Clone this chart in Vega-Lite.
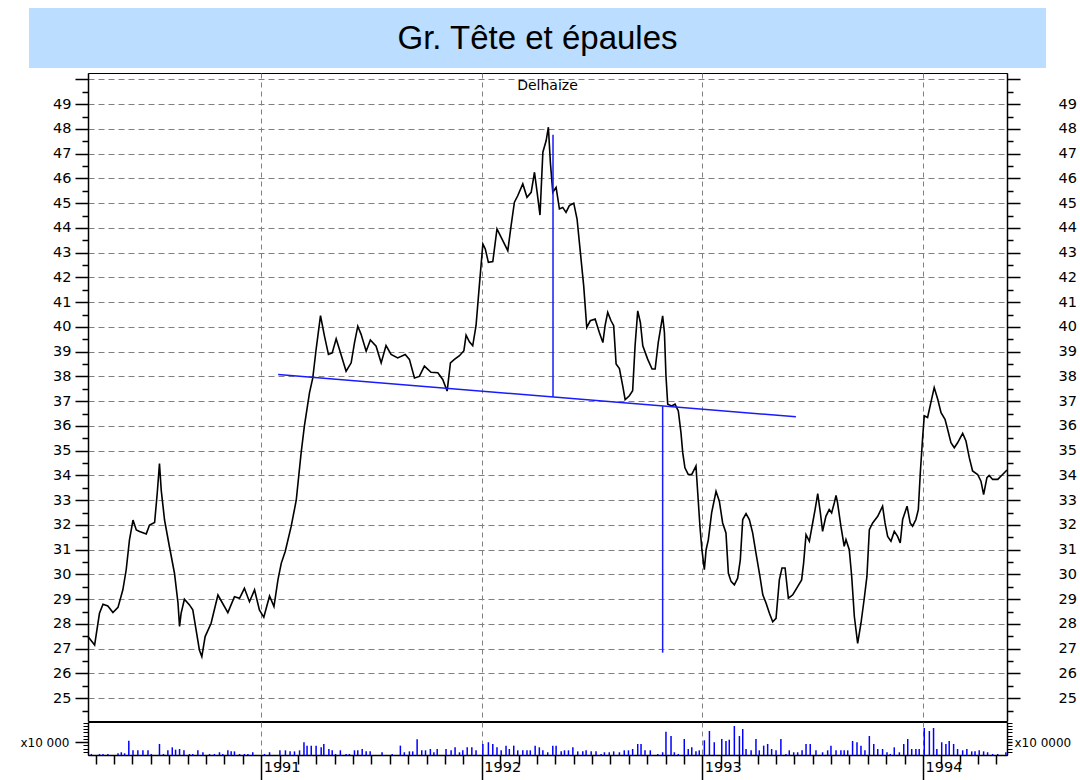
{
 "$schema": "https://vega.github.io/schema/vega-lite/v6.json",
 "padding": {"left": 19, "top": 8, "right": 0, "bottom": 0},
 "background": "white",
 "config": {
  "font": "DejaVu Sans",
  "view": {"stroke": null},
  "axis": {"labelColor": "black", "tickColor": "black", "domainColor": "black", "labelFont": "DejaVu Sans", "labelFontSize": 14.5, "labelFlush": false, "labelOverlap": false, "labelBound": false, "tickWidth": 1}
 },
 "datasets": {
  "cours": [
   {"t":1990.215,"p":27.49},{"t":1990.245,"p":27.15},{"t":1990.267,"p":28.43},{"t":1990.283,"p":28.8},{"t":1990.305,"p":28.73},{"t":1990.328,"p":28.46},{"t":1990.351,"p":28.67},{"t":1990.373,"p":29.38},{"t":1990.388,"p":30.18},{"t":1990.403,"p":31.4},{"t":1990.419,"p":32.2},{"t":1990.434,"p":31.8},{"t":1990.449,"p":31.74},{"t":1990.479,"p":31.64},{"t":1990.494,"p":32.0},{"t":1990.517,"p":32.1},{"t":1990.529,"p":33.3},{"t":1990.539,"p":34.48},{"t":1990.547,"p":33.4},{"t":1990.562,"p":32.2},{"t":1990.584,"p":31.13},{"t":1990.607,"p":30.05},{"t":1990.623,"p":28.84},{"t":1990.63,"p":27.9},{"t":1990.637,"p":28.43},{"t":1990.652,"p":29.0},{"t":1990.675,"p":28.77},{"t":1990.69,"p":28.57},{"t":1990.705,"p":27.76},{"t":1990.72,"p":26.95},{"t":1990.731,"p":26.68},{"t":1990.746,"p":27.49},{"t":1990.773,"p":28.03},{"t":1990.804,"p":29.17},{"t":1990.849,"p":28.46},{"t":1990.879,"p":29.1},{"t":1990.902,"p":29.04},{"t":1990.924,"p":29.44},{"t":1990.947,"p":28.9},{"t":1990.97,"p":29.38},{"t":1990.992,"p":28.57},{"t":1991.012,"p":28.27},{"t":1991.038,"p":29.13},{"t":1991.058,"p":28.7},{"t":1991.076,"p":29.78},{"t":1991.091,"p":30.45},{"t":1991.109,"p":30.93},{"t":1991.136,"p":31.94},{"t":1991.159,"p":33.0},{"t":1991.181,"p":34.9},
   {"t":1991.196,"p":36.0},{"t":1991.219,"p":37.34},{"t":1991.234,"p":37.94},{"t":1991.249,"p":39.09},{"t":1991.269,"p":40.46},{"t":1991.287,"p":39.63},{"t":1991.305,"p":38.89},{"t":1991.322,"p":38.95},{"t":1991.34,"p":39.52},{"t":1991.355,"p":39.09},{"t":1991.385,"p":38.21},{"t":1991.408,"p":38.55},{"t":1991.423,"p":39.36},{"t":1991.438,"p":40.03},{"t":1991.453,"p":39.7},{"t":1991.476,"p":39.02},{"t":1991.495,"p":39.47},{"t":1991.521,"p":39.22},{"t":1991.544,"p":38.55},{"t":1991.566,"p":39.25},{"t":1991.589,"p":38.89},{"t":1991.619,"p":38.75},{"t":1991.653,"p":38.89},{"t":1991.672,"p":38.69},{"t":1991.695,"p":37.94},{"t":1991.717,"p":38.0},{"t":1991.74,"p":38.42},{"t":1991.77,"p":38.17},{"t":1991.801,"p":38.15},{"t":1991.823,"p":37.88},{"t":1991.843,"p":37.41},{"t":1991.858,"p":38.55},{"t":1991.876,"p":38.69},{"t":1991.899,"p":38.84},{"t":1991.919,"p":39.04},{"t":1991.929,"p":39.67},{"t":1991.944,"p":39.4},{"t":1991.959,"p":39.24},{"t":1991.974,"p":40.05},{"t":1991.989,"p":41.67},
   {"t":1992.005,"p":43.35},{"t":1992.016,"p":43.15},{"t":1992.03,"p":42.61},{"t":1992.05,"p":42.64},{"t":1992.069,"p":43.96},{"t":1992.088,"p":43.62},{"t":1992.118,"p":43.08},{"t":1992.133,"p":44.09},{"t":1992.148,"p":45.04},{"t":1992.163,"p":45.3},{"t":1992.186,"p":45.78},{"t":1992.205,"p":45.24},{"t":1992.224,"p":45.44},{"t":1992.239,"p":46.25},{"t":1992.251,"p":45.44},{"t":1992.264,"p":44.52},{"t":1992.277,"p":47.06},{"t":1992.292,"p":47.53},{"t":1992.302,"p":48.07},{"t":1992.311,"p":46.65},{"t":1992.322,"p":45.44},{"t":1992.337,"p":45.64},{"t":1992.352,"p":44.77},{"t":1992.367,"p":44.83},{"t":1992.382,"p":44.63},{"t":1992.397,"p":44.9},{"t":1992.417,"p":45.0},{"t":1992.432,"p":44.36},{"t":1992.447,"p":43.01},{"t":1992.462,"p":41.67},{"t":1992.476,"p":39.98},{"t":1992.492,"p":40.25},{"t":1992.514,"p":40.32},{"t":1992.533,"p":39.78},{"t":1992.549,"p":39.37},{"t":1992.559,"p":40.05},{"t":1992.571,"p":40.59},{"t":1992.586,"p":40.25},{"t":1992.598,"p":40.05},{"t":1992.609,"p":38.5},{"t":1992.624,"p":38.32},{"t":1992.639,"p":37.62},{"t":1992.65,"p":37.06},{"t":1992.669,"p":37.22},{"t":1992.684,"p":37.42},{"t":1992.695,"p":39.24},{"t":1992.707,"p":40.65},{"t":1992.719,"p":40.18},{"t":1992.73,"p":39.24},{"t":1992.752,"p":38.7},{"t":1992.772,"p":38.3},{"t":1992.786,"p":38.3},{"t":1992.8,"p":39.37},{"t":1992.82,"p":40.45},{"t":1992.828,"p":39.78},{"t":1992.835,"p":38.03},{"t":1992.843,"p":36.88},{"t":1992.861,"p":36.81},{"t":1992.876,"p":36.88},{"t":1992.891,"p":36.61},{"t":1992.903,"p":35.73},{"t":1992.911,"p":34.92},{"t":1992.921,"p":34.31},{"t":1992.936,"p":34.04},{"t":1992.952,"p":34.04},{"t":1992.971,"p":34.38},{"t":1992.979,"p":33.3},{"t":1992.989,"p":31.95},{"t":1992.998,"p":31.0},
   {"t":1993.009,"p":30.19},{"t":1993.017,"p":31.0},{"t":1993.027,"p":31.4},{"t":1993.042,"p":32.49},{"t":1993.062,"p":33.36},{"t":1993.077,"p":32.96},{"t":1993.092,"p":32.08},{"t":1993.107,"p":31.68},{"t":1993.118,"p":30.05},{"t":1993.13,"p":29.72},{"t":1993.145,"p":29.58},{"t":1993.16,"p":29.85},{"t":1993.172,"p":30.59},{"t":1993.183,"p":32.22},{"t":1993.198,"p":32.46},{"t":1993.213,"p":32.22},{"t":1993.228,"p":31.68},{"t":1993.243,"p":30.86},{"t":1993.261,"p":29.92},{"t":1993.274,"p":29.18},{"t":1993.289,"p":28.84},{"t":1993.304,"p":28.43},{"t":1993.319,"p":28.09},{"t":1993.334,"p":28.23},{"t":1993.349,"p":29.78},{"t":1993.361,"p":30.26},{"t":1993.375,"p":30.26},{"t":1993.39,"p":29.04},{"t":1993.41,"p":29.18},{"t":1993.432,"p":29.51},{"t":1993.45,"p":29.78},{"t":1993.459,"p":30.46},{"t":1993.47,"p":31.61},{"t":1993.485,"p":31.34},{"t":1993.5,"p":32.08},{"t":1993.511,"p":32.62},{"t":1993.523,"p":33.27},{"t":1993.535,"p":32.49},{"t":1993.545,"p":31.74},{"t":1993.56,"p":32.35},{"t":1993.575,"p":32.62},{"t":1993.586,"p":32.49},{"t":1993.598,"p":32.89},{"t":1993.606,"p":33.19},{"t":1993.613,"p":32.89},{"t":1993.628,"p":31.95},{"t":1993.643,"p":31.14},{"t":1993.651,"p":31.41},{"t":1993.666,"p":31.0},{"t":1993.677,"p":29.92},{"t":1993.689,"p":28.3},{"t":1993.704,"p":27.22},{"t":1993.719,"p":28.03},{"t":1993.734,"p":29.04},{"t":1993.746,"p":29.92},{"t":1993.757,"p":31.81},{"t":1993.772,"p":32.08},{"t":1993.795,"p":32.35},{"t":1993.817,"p":32.76},{"t":1993.828,"p":32.08},{"t":1993.84,"p":31.54},{"t":1993.855,"p":31.34},{"t":1993.87,"p":31.74},{"t":1993.885,"p":31.54},{"t":1993.897,"p":31.27},{"t":1993.908,"p":32.22},{"t":1993.928,"p":32.76},{"t":1993.942,"p":32.08},{"t":1993.953,"p":31.95},{"t":1993.968,"p":32.22},{"t":1993.979,"p":32.62},{"t":1993.988,"p":34.11},{"t":1993.999,"p":35.59},
   {"t":1994.006,"p":36.41},{"t":1994.021,"p":36.34},{"t":1994.036,"p":36.95},{"t":1994.051,"p":37.55},{"t":1994.067,"p":37.08},{"t":1994.082,"p":36.54},{"t":1994.1,"p":36.27},{"t":1994.112,"p":35.86},{"t":1994.127,"p":35.32},{"t":1994.142,"p":35.12},{"t":1994.157,"p":35.32},{"t":1994.18,"p":35.7},{"t":1994.195,"p":35.39},{"t":1994.21,"p":34.72},{"t":1994.225,"p":34.18},{"t":1994.248,"p":34.04},{"t":1994.263,"p":33.77},{"t":1994.275,"p":33.23},{"t":1994.29,"p":33.91},{"t":1994.3,"p":34.0},{"t":1994.316,"p":33.84},{"t":1994.339,"p":33.84},{"t":1994.361,"p":34.04},{"t":1994.381,"p":34.22}
  ],
  "cou": [{"t":1991.077,"p":38.08},{"t":1993.424,"p":36.37}],
  "mesures": [{"t":1992.323,"y1":47.77,"y2":37.17},{"t":1992.82,"y1":36.8,"y2":26.84}],
  "volume": [
   {"t":1990.23,"v":0.08},{"t":1990.267,"v":0.08},{"t":1990.283,"v":0.08},{"t":1990.305,"v":0.08},{"t":1990.351,"v":0.13},{"t":1990.366,"v":0.21},{"t":1990.381,"v":0.13},{"t":1990.4,"v":1.1},{"t":1990.419,"v":0.36},{"t":1990.441,"v":0.36},{"t":1990.464,"v":0.36},{"t":1990.487,"v":0.36},{"t":1990.502,"v":0.08},{"t":1990.539,"v":0.85},{"t":1990.557,"v":0.08},{"t":1990.577,"v":0.36},{"t":1990.597,"v":0.59},{"t":1990.612,"v":0.41},{"t":1990.63,"v":0.46},{"t":1990.65,"v":0.36},{"t":1990.675,"v":0.08},{"t":1990.69,"v":0.08},{"t":1990.713,"v":0.36},{"t":1990.736,"v":0.21},{"t":1990.766,"v":0.08},{"t":1990.788,"v":0.08},{"t":1990.811,"v":0.21},{"t":1990.826,"v":0.08},{"t":1990.849,"v":0.36},{"t":1990.864,"v":0.28},{"t":1990.879,"v":0.28},{"t":1990.902,"v":0.08},{"t":1990.924,"v":0.08},{"t":1990.94,"v":0.08},{"t":1990.962,"v":0.21},
   {"t":1991.015,"v":0.08},{"t":1991.038,"v":0.21},{"t":1991.085,"v":0.36},{"t":1991.11,"v":0.36},{"t":1991.131,"v":0.28},{"t":1991.151,"v":0.28},{"t":1991.174,"v":0.36},{"t":1991.194,"v":0.98},{"t":1991.208,"v":0.72},{"t":1991.227,"v":0.72},{"t":1991.249,"v":0.72},{"t":1991.272,"v":0.59},{"t":1991.284,"v":0.85},{"t":1991.307,"v":0.46},{"t":1991.322,"v":0.36},{"t":1991.337,"v":0.08},{"t":1991.359,"v":0.36},{"t":1991.385,"v":0.08},{"t":1991.4,"v":0.08},{"t":1991.423,"v":0.36},{"t":1991.438,"v":0.36},{"t":1991.458,"v":0.46},{"t":1991.476,"v":0.28},{"t":1991.494,"v":0.28},{"t":1991.548,"v":0.21},{"t":1991.594,"v":0.08},{"t":1991.631,"v":0.72},{"t":1991.649,"v":0.21},{"t":1991.672,"v":0.28},{"t":1991.687,"v":0.28},{"t":1991.707,"v":1.21},{"t":1991.728,"v":0.36},{"t":1991.745,"v":0.36},{"t":1991.767,"v":0.46},{"t":1991.783,"v":0.21},{"t":1991.798,"v":0.46},{"t":1991.838,"v":0.46},{"t":1991.861,"v":0.36},{"t":1991.879,"v":0.59},{"t":1991.899,"v":0.21},{"t":1991.914,"v":0.36},{"t":1991.934,"v":0.59},{"t":1991.955,"v":0.59},{"t":1991.974,"v":0.36},
   {"t":1992.005,"v":0.85},{"t":1992.03,"v":0.98},{"t":1992.05,"v":0.85},{"t":1992.069,"v":0.59},{"t":1992.088,"v":0.36},{"t":1992.11,"v":0.72},{"t":1992.125,"v":0.46},{"t":1992.145,"v":0.72},{"t":1992.163,"v":0.36},{"t":1992.186,"v":0.36},{"t":1992.205,"v":0.36},{"t":1992.22,"v":0.36},{"t":1992.242,"v":0.72},{"t":1992.261,"v":0.59},{"t":1992.277,"v":0.36},{"t":1992.299,"v":0.21},{"t":1992.322,"v":0.72},{"t":1992.337,"v":0.72},{"t":1992.36,"v":0.28},{"t":1992.375,"v":0.36},{"t":1992.393,"v":0.36},{"t":1992.413,"v":0.59},{"t":1992.435,"v":0.28},{"t":1992.458,"v":0.28},{"t":1992.473,"v":0.36},{"t":1992.496,"v":0.28},{"t":1992.518,"v":0.28},{"t":1992.541,"v":0.08},{"t":1992.556,"v":0.21},{"t":1992.578,"v":0.21},{"t":1992.598,"v":0.28},{"t":1992.624,"v":0.21},{"t":1992.646,"v":0.36},{"t":1992.665,"v":0.36},{"t":1992.684,"v":0.46},{"t":1992.707,"v":0.85},{"t":1992.722,"v":0.85},{"t":1992.74,"v":0.36},{"t":1992.764,"v":0.36},{"t":1992.798,"v":0.08},{"t":1992.82,"v":0.21},{"t":1992.835,"v":1.79},{"t":1992.858,"v":1.46},{"t":1992.873,"v":0.21},{"t":1992.891,"v":0.08},{"t":1992.918,"v":1.23},{"t":1992.936,"v":0.46},{"t":1992.952,"v":0.59},{"t":1992.971,"v":0.28},{"t":1992.986,"v":0.36},
   {"t":1993.009,"v":1.13},{"t":1993.032,"v":1.85},{"t":1993.054,"v":0.98},{"t":1993.088,"v":1.23},{"t":1993.107,"v":1.08},{"t":1993.122,"v":1.18},{"t":1993.145,"v":2.23},{"t":1993.168,"v":1.46},{"t":1993.183,"v":2.0},{"t":1993.198,"v":0.46},{"t":1993.221,"v":0.36},{"t":1993.243,"v":1.23},{"t":1993.258,"v":0.36},{"t":1993.278,"v":0.72},{"t":1993.296,"v":0.85},{"t":1993.314,"v":0.46},{"t":1993.334,"v":0.36},{"t":1993.356,"v":1.23},{"t":1993.379,"v":0.08},{"t":1993.394,"v":0.36},{"t":1993.414,"v":0.21},{"t":1993.432,"v":0.21},{"t":1993.452,"v":0.36},{"t":1993.47,"v":0.85},{"t":1993.489,"v":0.85},{"t":1993.515,"v":0.36},{"t":1993.545,"v":0.21},{"t":1993.568,"v":0.36},{"t":1993.583,"v":0.72},{"t":1993.606,"v":0.36},{"t":1993.628,"v":0.36},{"t":1993.643,"v":0.36},{"t":1993.659,"v":0.36},{"t":1993.681,"v":1.08},{"t":1993.701,"v":0.98},{"t":1993.719,"v":0.72},{"t":1993.737,"v":0.36},{"t":1993.757,"v":1.46},{"t":1993.777,"v":0.85},{"t":1993.795,"v":0.46},{"t":1993.817,"v":0.46},{"t":1993.837,"v":0.21},{"t":1993.852,"v":0.08},{"t":1993.87,"v":0.59},{"t":1993.893,"v":0.21},{"t":1993.913,"v":0.85},{"t":1993.931,"v":1.23},{"t":1993.949,"v":0.46},{"t":1993.968,"v":0.46},{"t":1993.983,"v":0.46},
   {"t":1994.006,"v":2.08},{"t":1994.029,"v":1.85},{"t":1994.048,"v":2.08},{"t":1994.063,"v":0.46},{"t":1994.085,"v":0.98},{"t":1994.104,"v":0.85},{"t":1994.119,"v":1.08},{"t":1994.139,"v":0.85},{"t":1994.157,"v":0.46},{"t":1994.18,"v":0.36},{"t":1994.199,"v":0.46},{"t":1994.221,"v":0.28},{"t":1994.236,"v":0.28},{"t":1994.255,"v":0.36},{"t":1994.275,"v":0.28},{"t":1994.293,"v":0.21},{"t":1994.316,"v":0.08},{"t":1994.339,"v":0.08},{"t":1994.376,"v":0.21}
  ]
 },
 "spacing": 2,
 "vconcat": [
  {
   "width": 1017,
   "height": 60,
   "view": {"fill": "#BBDDFF", "stroke": null},
   "data": {"values": [{"titre": "Gr. Tête et épaules"}]},
   "mark": {"type": "text", "font": "Liberation Sans", "fontSize": 33, "color": "black", "align": "center", "baseline": "middle", "dy": 1},
   "encoding": {"text": {"field": "titre", "type": "nominal"}}
  },
  {
   "hconcat": [
    {
     "width": 59,
     "height": 1,
     "data": {"values": []},
     "mark": "point"
    },
    {
     "spacing": -4,
     "vconcat": [
      {
       "width": 919,
       "height": 648,
       "view": {"stroke": "black", "strokeWidth": 1},
       "title": {"text": "Delhaize", "offset": -22, "fontSize": 14, "fontWeight": "normal", "font": "DejaVu Sans", "color": "black", "anchor": "middle"},
       "resolve": {"axis": {"x": "independent", "y": "independent"}},
       "layer": [
        {
         "data": {"name": "cours"},
         "mark": {"type": "line", "color": "black", "strokeWidth": 1.6},
         "encoding": {
          "x": {"field": "t", "type": "quantitative", "scale": {"domain": [1990.215, 1994.381], "nice": false, "zero": false},
                "axis": {"values": [1991, 1992, 1993, 1994], "grid": true, "gridDash": [5, 4], "gridColor": "#808080", "gridWidth": 1, "labels": false, "ticks": false, "domain": false, "title": null}},
          "y": {"field": "p", "type": "quantitative", "scale": {"domain": [24.08, 50.26], "nice": false, "zero": false},
                "axis": {"orient": "left", "values": [25,26,27,28,29,30,31,32,33,34,35,36,37,38,39,40,41,42,43,44,45,46,47,48,49,50], "grid": true, "gridDash": [6, 4], "gridColor": "#808080", "gridWidth": 1, "tickSize": 13, "tickWidth": 1.5, "labelPadding": 4, "labelExpr": "datum.value == 50 ? '' : datum.label", "domain": true, "domainWidth": 1.5, "title": null}}
         }
        },
        {
         "data": {"name": "cou"},
         "mark": {"type": "line", "color": "#1a1aff", "strokeWidth": 1.5},
         "encoding": {
          "x": {"field": "t", "type": "quantitative", "scale": {"domain": [1990.215, 1994.381], "nice": false, "zero": false}, "axis": null},
          "y": {"field": "p", "type": "quantitative", "scale": {"domain": [24.08, 50.26], "nice": false, "zero": false},
                "axis": {"orient": "left", "values": [24.5,25.5,26.5,27.5,28.5,29.5,30.5,31.5,32.5,33.5,34.5,35.5,36.5,37.5,38.5,39.5,40.5,41.5,42.5,43.5,44.5,45.5,46.5,47.5,48.5,49.5], "grid": false, "tickSize": 6, "tickWidth": 1.5, "labels": false, "domain": false, "title": null}}
         }
        },
        {
         "data": {"name": "mesures"},
         "mark": {"type": "rule", "color": "#1a1aff", "strokeWidth": 1.5},
         "encoding": {
          "x": {"field": "t", "type": "quantitative", "scale": {"domain": [1990.215, 1994.381], "nice": false, "zero": false}, "axis": null},
          "y": {"field": "y1", "type": "quantitative", "scale": {"domain": [24.08, 50.26], "nice": false, "zero": false},
                "axis": {"orient": "right", "values": [25,26,27,28,29,30,31,32,33,34,35,36,37,38,39,40,41,42,43,44,45,46,47,48,49,50], "grid": false, "tickSize": 13, "tickWidth": 1.5, "labelPadding": 38, "labelAlign": "left", "labelExpr": "datum.value == 50 ? '' : datum.label", "domain": true, "domainWidth": 1.5, "title": null}},
          "y2": {"field": "y2"}
         }
        },
        {
         "data": {"values": []},
         "mark": "point",
         "encoding": {
          "x": {"field": "t", "type": "quantitative", "scale": {"domain": [1990.215, 1994.381], "nice": false, "zero": false}, "axis": null},
          "y": {"field": "p", "type": "quantitative", "scale": {"domain": [24.08, 50.26], "nice": false, "zero": false},
                "axis": {"orient": "right", "values": [24.5,25.5,26.5,27.5,28.5,29.5,30.5,31.5,32.5,33.5,34.5,35.5,36.5,37.5,38.5,39.5,40.5,41.5,42.5,43.5,44.5,45.5,46.5,47.5,48.5,49.5], "grid": false, "tickSize": 6, "tickWidth": 1.5, "labels": false, "domain": false, "title": null}}
         }
        }
       ]
      },
      {
       "width": 919,
       "height": 33,
       "view": {"stroke": "black", "strokeWidth": 1},
       "resolve": {"axis": {"x": "independent", "y": "independent"}},
       "layer": [
        {
         "data": {"name": "volume"},
         "mark": {"type": "rule", "color": "#0000ff", "strokeWidth": 1.5},
         "encoding": {
          "x": {"field": "t", "type": "quantitative", "scale": {"domain": [1990.215, 1994.381], "nice": false, "zero": false},
                "axis": {"orient": "bottom", "values": [1990.25,1990.3333,1990.4167,1990.5,1990.5833,1990.6667,1990.75,1990.8333,1990.9167,1991.0833,1991.1667,1991.25,1991.3333,1991.4167,1991.5,1991.5833,1991.6667,1991.75,1991.8333,1991.9167,1992.0833,1992.1667,1992.25,1992.3333,1992.4167,1992.5,1992.5833,1992.6667,1992.75,1992.8333,1992.9167,1993.0833,1993.1667,1993.25,1993.3333,1993.4167,1993.5,1993.5833,1993.6667,1993.75,1993.8333,1993.9167,1994.0833,1994.1667,1994.25,1994.3333], "grid": false, "labels": false, "tickSize": 9, "tickWidth": 1.5, "domain": true, "domainWidth": 1.5, "title": null}},
          "y": {"field": "v", "type": "quantitative", "scale": {"domain": [0, 2.54], "nice": false},
                "axis": {"orient": "left", "values": [1], "grid": false, "tickSize": 13, "tickWidth": 1.5, "labelPadding": 6, "labelFontSize": 12, "labelExpr": "'x10 000'", "domain": true, "domainWidth": 1.5, "title": null}},
          "y2": {"datum": 0}
         }
        },
        {
         "data": {"values": []},
         "mark": "point",
         "encoding": {
          "x": {"field": "t", "type": "quantitative", "scale": {"domain": [1990.215, 1994.381], "nice": false, "zero": false},
                "axis": {"orient": "bottom", "values": [1991, 1992, 1993, 1994], "format": "d", "grid": true, "gridDash": [5, 4], "gridColor": "#808080", "tickSize": 28, "tickWidth": 1.5, "labelAlign": "left", "labelBaseline": "top", "labelPadding": -23, "labelOffset": 2, "domain": false, "title": null}},
          "y": {"field": "v", "type": "quantitative", "scale": {"domain": [0, 2.54], "nice": false},
                "axis": {"orient": "left", "values": [0.25,0.5,0.75,1.25,1.5,1.75,2,2.25,2.5], "grid": false, "tickSize": 5, "labels": false, "domain": false, "title": null}}
         }
        },
        {
         "data": {"values": []},
         "mark": "point",
         "encoding": {
          "x": {"field": "t", "type": "quantitative", "scale": {"domain": [1990.215, 1994.381], "nice": false, "zero": false}, "axis": null},
          "y": {"field": "v", "type": "quantitative", "scale": {"domain": [0, 2.54], "nice": false},
                "axis": {"orient": "right", "values": [1], "grid": false, "tickSize": 5, "tickWidth": 1.5, "labelPadding": 2, "labelAlign": "left", "labelFontSize": 12, "labelExpr": "'x10 0000'", "domain": true, "domainWidth": 1.5, "title": null}}
         }
        },
        {
         "data": {"values": []},
         "mark": "point",
         "encoding": {
          "x": {"field": "t", "type": "quantitative", "scale": {"domain": [1990.215, 1994.381], "nice": false, "zero": false}, "axis": null},
          "y": {"field": "v", "type": "quantitative", "scale": {"domain": [0, 2.54], "nice": false},
                "axis": {"orient": "right", "values": [0.25,0.5,0.75,1.25,1.5,1.75,2,2.25,2.5], "grid": false, "tickSize": 5, "labels": false, "domain": false, "title": null}}
         }
        }
       ]
      }
     ]
    }
   ],
   "spacing": 0,
   "bounds": "flush"
  }
 ]
}
